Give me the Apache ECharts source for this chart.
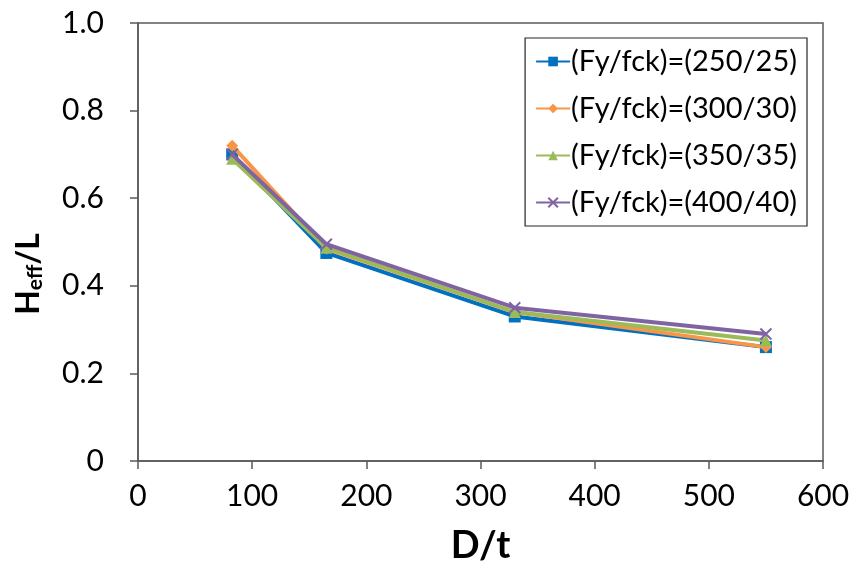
<!DOCTYPE html>
<html><head><meta charset="utf-8">
<script src="https://cdn.jsdelivr.net/npm/echarts@6/dist/echarts.min.js"></script>
<style>html,body{margin:0;padding:0;background:#fff}#c{width:851px;height:562px}</style>
</head><body><div id="c"></div>
<script>
var xValues = [82.5, 165, 330, 550];
var seriesNames = ['(Fy/fck)=(250/25)', '(Fy/fck)=(300/30)', '(Fy/fck)=(350/35)', '(Fy/fck)=(400/40)'];
var s250 = [0.70, 0.475, 0.33, 0.26];
var s300 = [0.72, 0.485, 0.34, 0.26];
var s350 = [0.69, 0.487, 0.34, 0.275];
var s400 = [0.70, 0.495, 0.35, 0.29];
var colors = ['#0070C0', '#F79646', '#9BBB59', '#8064A2'];
var symbols = ['rect', 'diamond', 'triangle', 'path://M0,0L10,10M10,0L0,10'];
var symbolSizes = [12, 12, 12, 11];

var allData = [s250, s300, s350, s400];
var FONT = 'Lato';
var series = allData.map(function (vals, i) {
  return {
    name: seriesNames[i],
    type: 'line',
    data: vals.map(function (v, j) { return [xValues[j], v]; }),
    symbol: symbols[i],
    symbolSize: symbolSizes[i],
    showAllSymbol: true,
    lineStyle: { color: colors[i], width: 4 },
    itemStyle: i === 3 ? { color: colors[i], borderColor: colors[i], borderWidth: 2 } : { color: colors[i] },
    z: 2 + i
  };
});

var chart = echarts.init(document.getElementById('c'), null, { renderer: 'canvas' });
chart.setOption({
  animation: false,
  color: colors,
  grid: { left: 138, right: 28, top: 23, bottom: 101, containLabel: false, outerBoundsMode: 'none',
    show: true, borderColor: '#595959', borderWidth: 1.5, backgroundColor: 'transparent' },
  legend: {
    orient: 'vertical',
    right: 44, top: 38,
    padding: [9, 10, 9, 10],
    itemGap: 18,
    itemWidth: 34, itemHeight: 12,
    borderColor: '#262626', borderWidth: 1.2,
    textStyle: { fontFamily: FONT, fontSize: 29, color: '#000', padding: [0, 0, 0, -4] },
    data: seriesNames
  },
  xAxis: {
    type: 'value', min: 0, max: 600, interval: 100,
    name: 'D/t', nameLocation: 'middle', nameGap: 66,
    nameTextStyle: { fontFamily: FONT, fontWeight: 'bold', fontSize: 38, color: '#000' },
    axisLine: { show: true, onZero: false, lineStyle: { color: '#595959', width: 1.5 } },
    axisTick: { show: true, inside: false, length: 8, lineStyle: { color: '#595959', width: 1.5 } },
    axisLabel: { fontFamily: FONT, fontSize: 30, color: '#000', margin: 20 },
    splitLine: { show: false }
  },
  yAxis: {
    type: 'value', min: 0, max: 1, interval: 0.2,
    name: '{a|H}{b|eff}{a|/L}', nameLocation: 'middle', nameGap: 92, nameRotate: 90,
    nameTextStyle: {
      padding: [0, 64, 0, 0],
      rich: {
        a: { fontFamily: FONT, fontWeight: 'bold', fontSize: 32, color: '#000' },
        b: { fontFamily: FONT, fontWeight: 'bold', fontSize: 21, color: '#000', padding: [13, 0, 0, 0] }
      }
    },
    axisLine: { show: true, lineStyle: { color: '#595959', width: 1.5 } },
    axisTick: { show: true, inside: false, length: 8, lineStyle: { color: '#595959', width: 1.5 } },
    axisLabel: { fontFamily: FONT, fontSize: 30, color: '#000', margin: 34,
      formatter: function (v) { return v === 0 ? '0' : v.toFixed(1); } },
    splitLine: { show: false }
  },
  series: series
});
</script></body></html>
